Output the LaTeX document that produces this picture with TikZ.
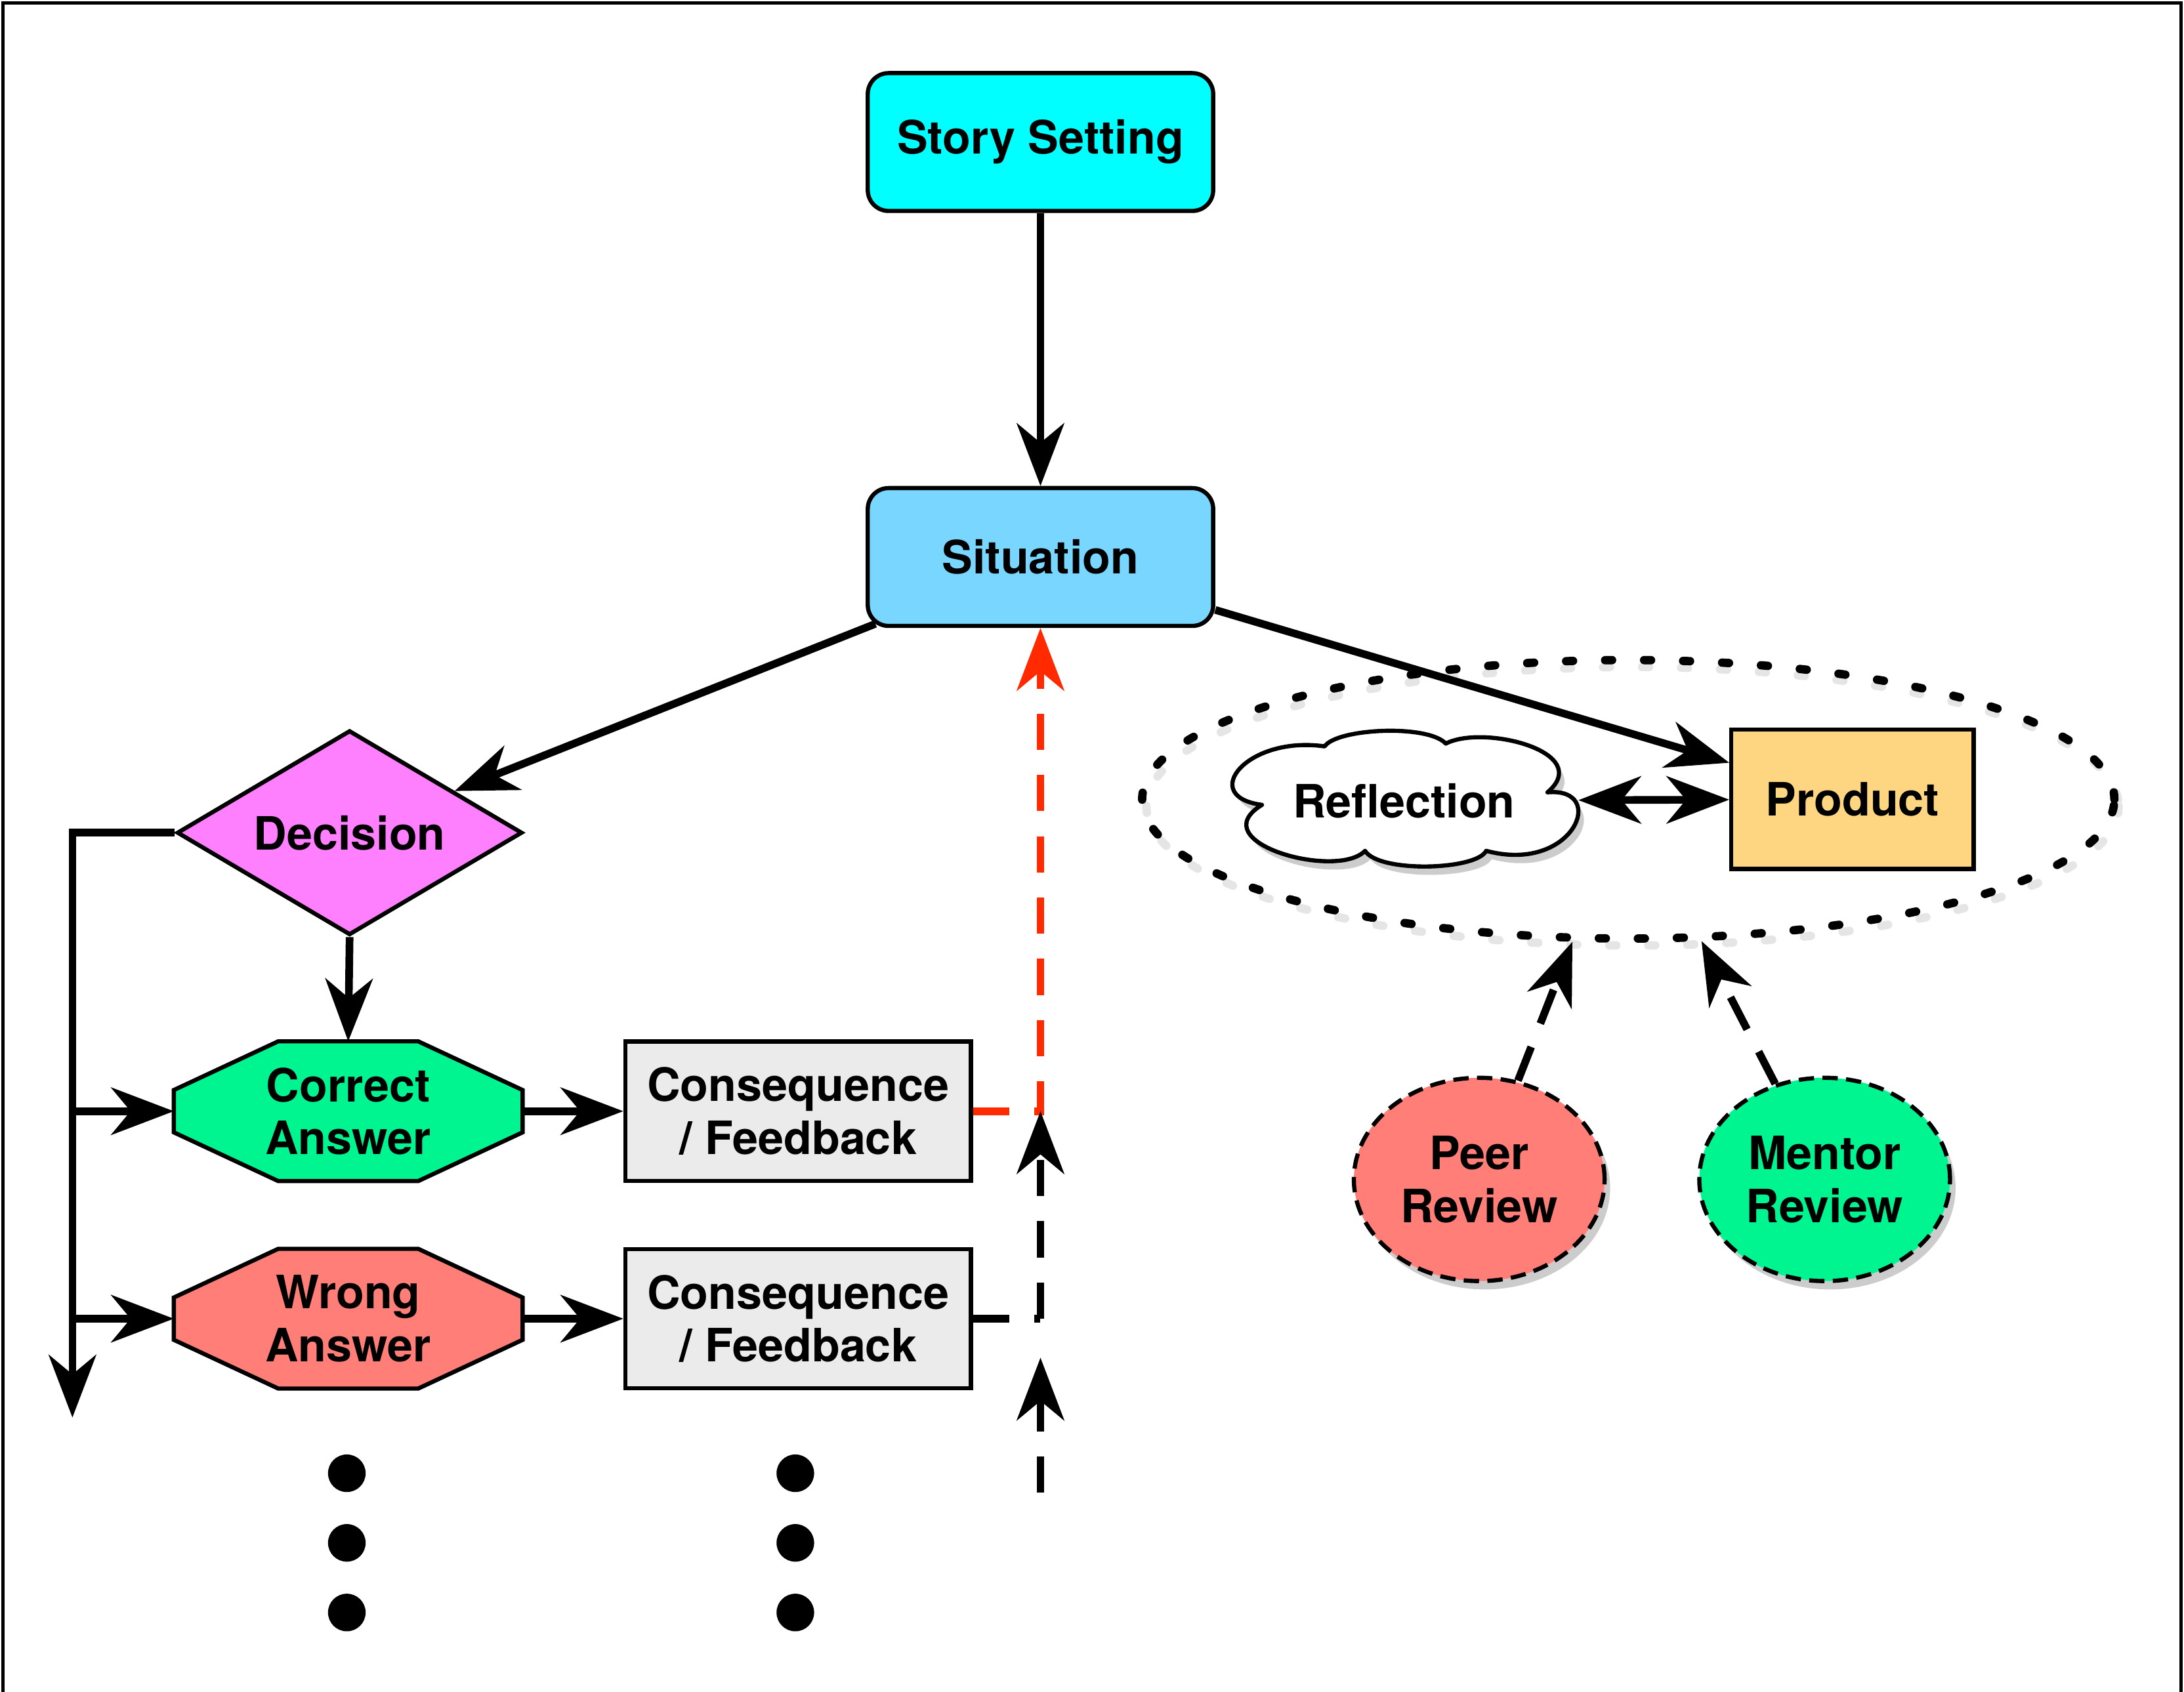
\documentclass[tikz,border=0pt]{standalone}
\usepackage{fontspec}
\setmainfont{TeX Gyre Heros}
\usetikzlibrary{arrows.meta,shapes.geometric,shapes.symbols,shadows,calc}
\pgfdeclarelayer{background}
\pgfsetlayers{background,main}
\definecolor{cstory}{HTML}{00FFFF}
\definecolor{csit}{HTML}{78D6FF}
\definecolor{cdec}{HTML}{FF80FF}
\definecolor{cgreen}{HTML}{00F590}
\definecolor{csalmon}{HTML}{FF7F78}
\definecolor{cgray}{HTML}{EBEBEB}
\definecolor{cprod}{HTML}{FED580}
\definecolor{cred}{HTML}{FF2A00}
\tikzset{
  lbl/.style={font=\bfseries\fontsize{33}{38}\selectfont, align=center, text=black, inner sep=0pt},
  rbox/.style={lbl, draw, line width=3pt, rounded corners=15pt, minimum width=248pt, minimum height=99pt},
  sbox/.style={lbl, draw, line width=3pt, minimum width=248pt, minimum height=100pt},
  octo/.style={lbl, minimum width=250pt, minimum height=100pt},
  octline/.style={line width=3pt, draw=black},
  tip/.tip={Stealth[length=45pt,width=34pt,inset=14pt]},
  arr/.style={line width=5.5pt, -tip},
  darr/.style={line width=5.5pt, tip-tip},
  dash5/.style={line width=5.5pt, dash pattern=on 26pt off 18pt},
  dotline/.style={line width=6pt, dash pattern=on 5pt off 23pt, line cap=round},
  shade/.style={drop shadow={shadow xshift=4pt, shadow yshift=-6pt, fill=black, opacity=0.2}},
  revnode/.style={lbl, ellipse, draw, line width=3pt, dash pattern=on 11pt off 6pt, minimum width=180pt, minimum height=146pt, shade},
  bigdot/.style={circle, fill=black, minimum size=27pt, inner sep=0pt}
}
\begin{document}
\begin{tikzpicture}[x=1pt,y=-1pt]
\useasboundingbox (0,0) rectangle (1568,1215);
\draw[line width=2.5pt] (2,1216) -- (2,2) -- (1566,2) -- (1566,1216);

% nodes
\node[rbox, fill=cstory] (story) at (747,102) {Story Setting};
\node[rbox, fill=csit] (sit) at (747,400) {Situation};
\node[lbl, diamond, draw, line width=3pt, fill=cdec, shape aspect=1.69, minimum width=248pt, minimum height=147pt] (dec) at (251,598) {Decision};
\node[octo] (correct) at (250,798) {Correct\\Answer};
\node[octo] (wrong) at (250,947) {Wrong\\Answer};
\node[sbox, fill=cgray] (cons1) at (573,798) {Consequence\\/ Feedback};
\node[sbox, fill=cgray] (cons2) at (573,947) {Consequence\\/ Feedback};

\begin{pgfonlayer}{background}
\foreach \n/\c in {correct/cgreen, wrong/csalmon}{
  \filldraw[octline, fill=\c]
    ($(\n.north west)+(75,0)$) -- ($(\n.north east)+(-75,0)$) --
    ($(\n.north east)+(0,35)$) -- ($(\n.south east)+(0,-35)$) --
    ($(\n.south east)+(-75,0)$) -- ($(\n.south west)+(75,0)$) --
    ($(\n.south west)+(0,-35)$) -- ($(\n.north west)+(0,35)$) -- cycle;
}
\draw[dotline, black!10] (1172,579) ellipse [x radius=349, y radius=100];
\end{pgfonlayer}

\node[draw, ellipse, dotline, minimum width=698pt, minimum height=200pt, inner sep=0pt] (grp) at (1169,574) {};

% reflection cloud (shadow + outline)
\begin{scope}[shift={(4,6)}]
\fill[black, opacity=0.2] (951,536) .. controls (960,523) and (1025,520) .. (1038,534)
  .. controls (1065,520) and (1145,540) .. (1111,569)
  .. controls (1155,565) and (1130,628) .. (1067,611)
  .. controls (1060,625) and (990,627) .. (980,611)
  .. controls (960,632) and (862,605) .. (906,578)
  .. controls (860,572) and (895,528) .. (951,536) -- cycle;
\end{scope}
\filldraw[fill=white, draw=black, line width=3pt, line join=round] (951,536) .. controls (960,523) and (1025,520) .. (1038,534)
  .. controls (1065,520) and (1145,540) .. (1111,569)
  .. controls (1155,565) and (1130,628) .. (1067,611)
  .. controls (1060,625) and (990,627) .. (980,611)
  .. controls (960,632) and (862,605) .. (906,578)
  .. controls (860,572) and (895,528) .. (951,536) -- cycle;
\node[lbl, ellipse, minimum width=250pt, minimum height=97pt] (refl) at (1008,575) {Reflection};

\node[lbl, draw, line width=3pt, fill=cprod, minimum width=174pt, minimum height=100pt] (prod) at (1330,574) {Product};
\node[revnode, fill=csalmon] (peer) at (1062,847) {Peer\\Review};
\node[revnode, fill=cgreen] (mentor) at (1310,847) {Mentor\\Review};

\foreach \x/\k in {249/a, 571/b}{
  \node[bigdot] (dot\k1) at (\x,1058) {};
  \node[bigdot] (dot\k2) at (\x,1108) {};
  \node[bigdot] (dot\k3) at (\x,1158) {};
}

% coordinates
\coordinate (lend) at (52,1018);
\coordinate (b1) at (52,798);
\coordinate (b2) at (52,947);
\coordinate (jr) at (747,798);
\coordinate (jb) at (747,947);
\coordinate (jb2) at (747,975);
\coordinate (bot) at (747,1072);

% connectors
\draw[arr] (story) -- (sit);
\draw[arr] ([xshift=7pt,yshift=3pt]sit.south west) -- (dec);
\draw[arr] ([yshift=13pt]sit.south east) -- (prod);
\draw[arr] (dec.south) -- (correct.north);
\draw[arr] (dec.west) -| (lend);
\draw[arr] (b1) -- (correct.west);
\draw[arr] (b2) -- (wrong.west);
\draw[arr] (correct.east) -- (cons1.west);
\draw[arr] (wrong.east) -- (cons2.west);
\draw[darr] (refl) -- (prod);

\draw[dash5, draw=cred, -{Stealth[length=45pt,width=34pt,inset=14pt,fill=cred]}] (cons1.east) -- (jr) -- (sit.south);
\draw[dash5] (cons2.east) -- (jb);
\draw[dash5, -tip] (jb) -- (jr);
\draw[dash5, -tip] (bot) -- (jb2);

\draw[dash5, -tip] (peer) -- (grp);
\draw[dash5, -tip] (mentor) -- (grp);
\end{tikzpicture}
\end{document}
